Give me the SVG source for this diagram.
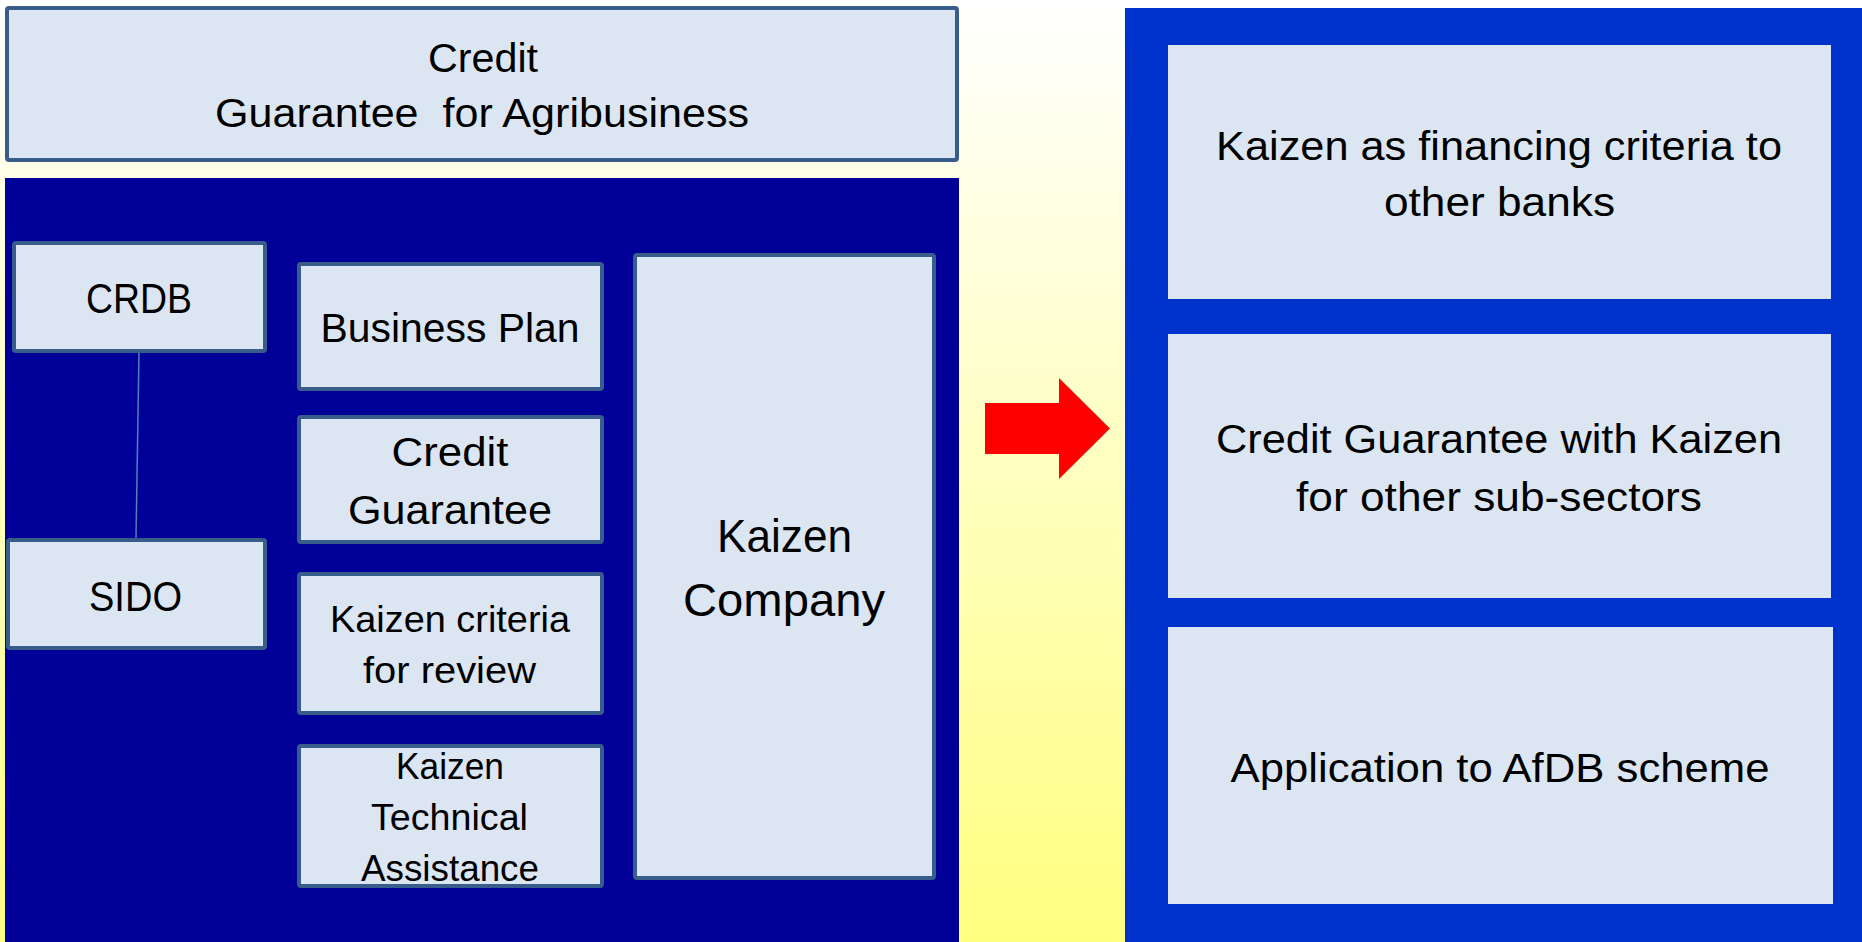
<svg xmlns="http://www.w3.org/2000/svg" width="1862" height="942" viewBox="0 0 1862 942">
<defs>
<linearGradient id="bg" x1="0" y1="0" x2="0" y2="1">
<stop offset="0" stop-color="#ffffff"/>
<stop offset="1" stop-color="#ffff80"/>
</linearGradient>
<style>
.box{fill:#dce6f2;stroke:#385d8a;stroke-width:4}
.pbox{fill:#dce6f2}
text{font-family:"Liberation Sans",Arial,sans-serif;fill:#000;text-anchor:middle}
</style>
</defs>
<rect x="0" y="0" width="1862" height="942" fill="url(#bg)"/>
<rect id="left-panel" x="5" y="178" width="954" height="764" fill="#000099"/>
<rect id="right-panel" x="1125" y="8" width="737" height="934" fill="#0033cc"/>

<g id="title">
<rect class="box" x="7" y="8" width="950" height="152" rx="2"/>
<text x="483" y="72" font-size="40" textLength="110" lengthAdjust="spacingAndGlyphs">Credit</text>
<text x="482" y="127" font-size="40" textLength="534" lengthAdjust="spacingAndGlyphs" xml:space="preserve">Guarantee  for Agribusiness</text>
</g>

<g id="connectors">
<line x1="139" y1="353" x2="136" y2="538" stroke="#4f81bd" stroke-width="1.5"/>
</g>

<g id="crdb">
<rect class="box" x="14" y="243" width="251" height="108" rx="2"/>
<text x="139" y="313" font-size="42" textLength="106" lengthAdjust="spacingAndGlyphs">CRDB</text>
</g>
<g id="sido">
<rect class="box" x="8" y="540" width="257" height="108" rx="2"/>
<text x="135.5" y="611" font-size="42" textLength="93" lengthAdjust="spacingAndGlyphs">SIDO</text>
</g>
<g id="business-plan">
<rect class="box" x="299" y="264" width="303" height="125" rx="2"/>
<text x="450" y="342" font-size="41" textLength="259" lengthAdjust="spacingAndGlyphs">Business Plan</text>
</g>
<g id="credit-guarantee">
<rect class="box" x="299" y="417" width="303" height="125" rx="2"/>
<text x="450" y="466" font-size="41" textLength="117" lengthAdjust="spacingAndGlyphs">Credit</text>
<text x="450" y="524" font-size="41" textLength="204" lengthAdjust="spacingAndGlyphs">Guarantee</text>
</g>
<g id="kaizen-criteria">
<rect class="box" x="299" y="574" width="303" height="139" rx="2"/>
<text x="450" y="632" font-size="37.5" textLength="240" lengthAdjust="spacingAndGlyphs">Kaizen criteria</text>
<text x="449.5" y="683" font-size="37.5" textLength="173" lengthAdjust="spacingAndGlyphs">for review</text>
</g>
<g id="kaizen-ta">
<rect class="box" x="299" y="746" width="303" height="140" rx="2"/>
<text x="450" y="779" font-size="37" textLength="108" lengthAdjust="spacingAndGlyphs">Kaizen</text>
<text x="449.5" y="830" font-size="37" textLength="157" lengthAdjust="spacingAndGlyphs">Technical</text>
<text x="450" y="881" font-size="37" textLength="178" lengthAdjust="spacingAndGlyphs">Assistance</text>
</g>
<g id="kaizen-company">
<rect class="box" x="635" y="255" width="299" height="623" rx="2"/>
<text x="784.5" y="552" font-size="47" textLength="135" lengthAdjust="spacingAndGlyphs">Kaizen</text>
<text x="784" y="616" font-size="47" textLength="202" lengthAdjust="spacingAndGlyphs">Company</text>
</g>

<g id="arrow">
<polygon points="985,403 1059,403 1059,378 1110,428.5 1059,479 1059,454 985,454" fill="#ff0000"/>
</g>

<g id="financing-criteria">
<rect class="pbox" x="1168" y="45" width="663" height="254"/>
<text x="1499" y="160" font-size="40" textLength="566" lengthAdjust="spacingAndGlyphs">Kaizen as financing criteria to</text>
<text x="1499.5" y="216" font-size="40" textLength="231" lengthAdjust="spacingAndGlyphs">other banks</text>
</g>
<g id="other-subsectors">
<rect class="pbox" x="1168" y="334" width="663" height="264"/>
<text x="1499" y="453" font-size="40" textLength="566" lengthAdjust="spacingAndGlyphs">Credit Guarantee with Kaizen</text>
<text x="1499" y="511" font-size="40" textLength="406" lengthAdjust="spacingAndGlyphs">for other sub-sectors</text>
</g>
<g id="afdb">
<rect class="pbox" x="1168" y="627" width="665" height="277"/>
<text x="1500" y="782" font-size="40" textLength="539" lengthAdjust="spacingAndGlyphs">Application to AfDB scheme</text>
</g>
</svg>
